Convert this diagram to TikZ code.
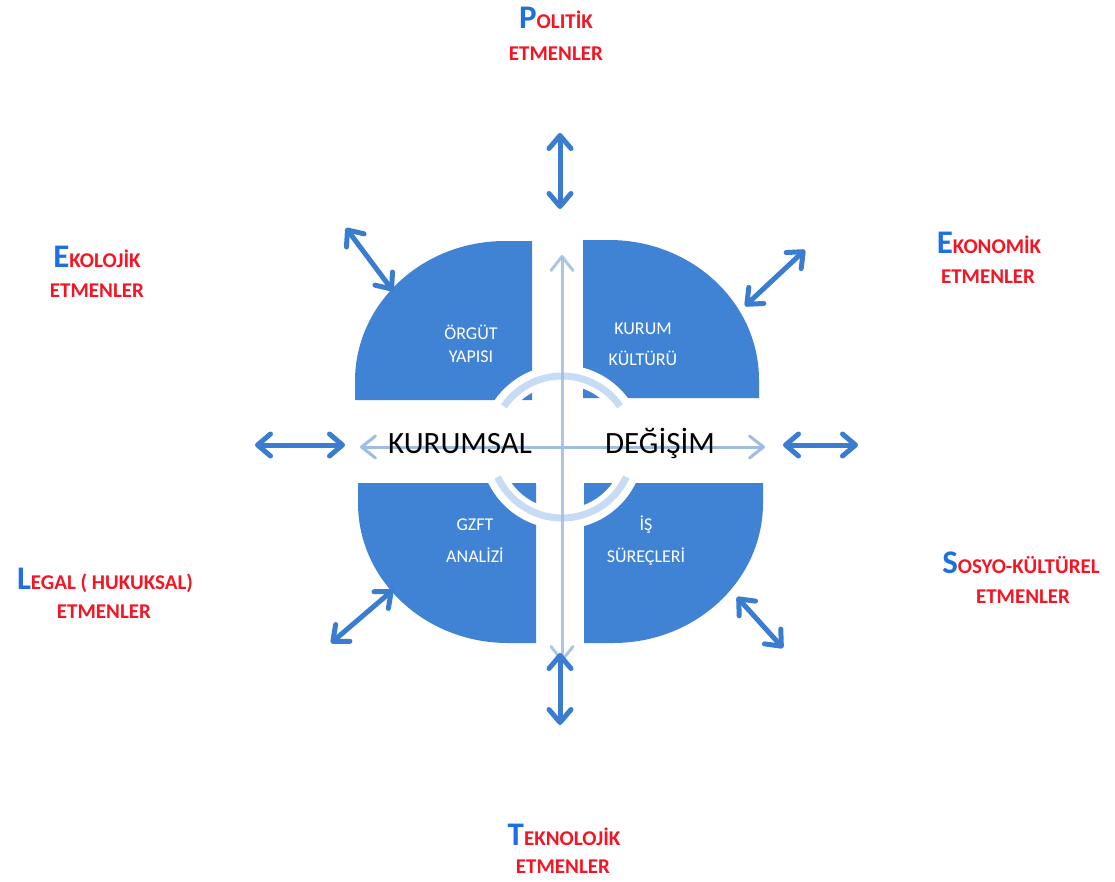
\documentclass[tikz,border=0pt]{standalone}
\usepackage{fontspec}
\setmainfont{Carlito}
\usetikzlibrary{arrows.meta}

\definecolor{quadblue}{RGB}{64,131,212}
\definecolor{arrowblue}{RGB}{58,124,208}
\definecolor{paleblue}{RGB}{160,188,225}
\definecolor{ringblue}{RGB}{200,219,245}
\definecolor{letterblue}{RGB}{30,112,222}
\definecolor{letterred}{RGB}{245,20,35}

\newcommand\Factor[2]{{\color{letterblue}\fontsize{33}{33}\selectfont #1}{\color{letterred}\fontsize{21}{21}\selectfont #2}}
\newcommand\Etmen{{\color{letterred}\fontsize{21}{21}\selectfont ETMENLER}}

\begin{document}
\begin{tikzpicture}[x=1pt,y=-1pt,
        quad/.style={fill=quadblue},
        quadtext/.style={text=white,font=\fontsize{18}{18}\selectfont,inner sep=0pt,anchor=base},
        bigtext/.style={text=black,font=\fontsize{31}{31}\selectfont,inner sep=0pt,anchor=base},
        factor/.style={inner sep=0pt,anchor=base,font=\bfseries},
        bigarrow/.style={draw=arrowblue,line width=5pt,line cap=round,
            {Straight Barb[round,length=13pt,width=22pt]}-{Straight Barb[round,length=13pt,width=22pt]}},
        palearrow/.style={draw=paleblue,line width=3pt,line cap=round,
            {Straight Barb[round,length=14pt,width=22pt]}-{Straight Barb[round,length=14pt,width=22pt]}}]
    \useasboundingbox (0,0) rectangle (1115,881);

    % quarters
    \fill[quad] (532,400) -- (355,400) -- (355,381) arc[start angle=180,end angle=270,x radius=150,y radius=140] -- (532,241) -- cycle;
    \fill[quad] (583,398) -- (583,240) -- (609,240) arc[start angle=270,end angle=360,x radius=150,y radius=140] -- (759,398) -- cycle;
    \fill[quad] (536,483) -- (358,483) -- (358,503) arc[start angle=180,end angle=90,x radius=150,y radius=140] -- (536,643) -- cycle;
    \fill[quad] (584,483) -- (763,483) -- (763,503) arc[start angle=0,end angle=90,x radius=150,y radius=140] -- (584,643) -- cycle;

    % centre ring
    \coordinate (c) at (562,447);
    \fill[white,even odd rule] (c) circle (82pt) (c) circle (62pt);
    \draw[ringblue,line width=7pt] (c) ++(-145:71) arc[start angle=-145,end angle=-35,radius=71];
    \draw[ringblue,line width=7pt] (c) ++(155:71) arc[start angle=155,end angle=25,radius=71];

    % pale cross
    \coordinate (hl) at (360,447);
    \coordinate (hr) at (765,447);
    \coordinate (vt) at (562,255);
    \coordinate (vb) at (562,662);
    \draw[palearrow] (hl) -- (hr);
    \draw[palearrow,draw opacity=.85] (vt) -- (vb);

    % outer arrows
    \coordinate (t1) at (560,133);  \coordinate (t2) at (560,209);
    \coordinate (b1) at (560,653);  \coordinate (b2) at (560,725);
    \coordinate (l1) at (255,445);  \coordinate (l2) at (345,445);
    \coordinate (r1) at (783,445);  \coordinate (r2) at (858,445);
    \coordinate (ul1) at (346,228); \coordinate (ul2) at (393,291);
    \coordinate (ur1) at (805,250); \coordinate (ur2) at (745,306);
    \coordinate (ll1) at (393,590); \coordinate (ll2) at (331,643);
    \coordinate (lr1) at (737,597); \coordinate (lr2) at (783,648);
    \draw[bigarrow] (t1) -- (t2);
    \draw[bigarrow] (b1) -- (b2);
    \draw[bigarrow] (l1) -- (l2);
    \draw[bigarrow] (r1) -- (r2);
    \draw[bigarrow] (ul1) -- (ul2);
    \draw[bigarrow] (ur1) -- (ur2);
    \draw[bigarrow] (ll1) -- (ll2);
    \draw[bigarrow] (lr1) -- (lr2);

    % centre words
    \node[bigtext] (kurumsal) at (460,453) {KURUMSAL};
    \node[bigtext] (degisim) at (660,453) {DEĞİŞİM};

    % quarter labels
    \node[quadtext] (orgut) at (471,339) {ÖRGÜT};
    \node[quadtext] (yapisi) at (471,362) {YAPISI};
    \node[quadtext] (kurum) at (643,334) {KURUM};
    \node[quadtext] (kultur) at (643,365) {KÜLTÜRÜ};
    \node[quadtext] (gzft) at (475,530) {GZFT};
    \node[quadtext] (analiz) at (475,562) {ANALİZİ};
    \node[quadtext] (is) at (646,530) {İŞ};
    \node[quadtext] (surec) at (646,562) {SÜREÇLERİ};

    % factors
    \node[factor] (politik) at (556,28) {\Factor{P}{OLITİK}};
    \node[factor] (politikE) at (556,60) {\Etmen};
    \node[factor] (ekoloji) at (97,267) {\Factor{E}{KOLOJİK}};
    \node[factor] (ekolojiE) at (97,297) {\Etmen};
    \node[factor] (ekonomi) at (989,253) {\Factor{E}{KONOMİK}};
    \node[factor] (ekonomiE) at (988,283) {\Etmen};
    \node[factor] (legal) at (105,589) {\Factor{L}{EGAL ( HUKUKSAL)}};
    \node[factor] (legalE) at (104,618) {\Etmen};
    \node[factor] (sosyo) at (1021,573) {\Factor{S}{OSYO-KÜLTÜREL}};
    \node[factor] (sosyoE) at (1023,603) {\Etmen};
    \node[factor] (tekno) at (564,845) {\Factor{T}{EKNOLOJİK}};
    \node[factor] (teknoE) at (563,873) {\Etmen};
\end{tikzpicture}
\end{document}
